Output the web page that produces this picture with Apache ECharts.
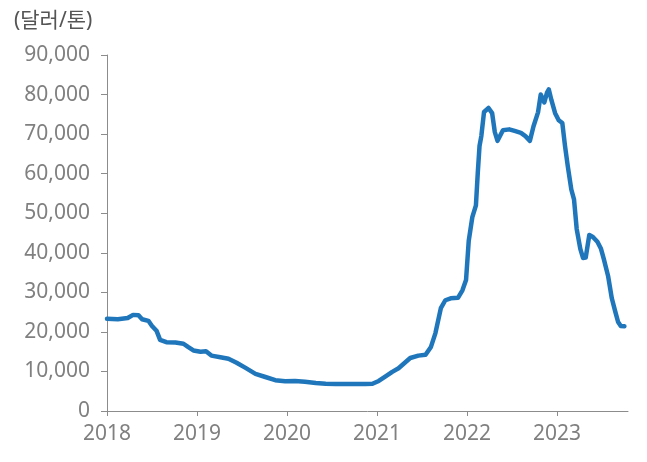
<!DOCTYPE html>
<html>
<head>
<meta charset="utf-8">
<script src="https://cdn.jsdelivr.net/npm/echarts@6/dist/echarts.min.js"></script>
<style>
html,body{margin:0;padding:0;background:#fff;}
#c{width:647px;height:462px;}
</style>
</head>
<body>
<div id="c"></div>
<script>
// decimal year
var dates = [2018.00,2018.12,2018.23,2018.29,2018.35,2018.39,2018.46,2018.50,2018.55,2018.59,2018.66,2018.76,2018.85,2018.90,2018.96,
2019.04,2019.10,2019.16,2019.26,2019.35,2019.44,2019.54,2019.65,2019.76,2019.87,2019.98,
2020.09,2020.20,2020.32,2020.43,2020.54,2020.71,2020.87,2020.95,
2021.02,2021.10,2021.17,2021.24,2021.30,2021.37,2021.46,2021.54,2021.60,2021.65,2021.71,2021.76,2021.82,2021.90,2021.95,2021.99,
2022.02,2022.06,2022.10,2022.12,2022.14,2022.16,2022.19,2022.24,2022.28,2022.31,2022.34,2022.40,2022.47,2022.53,2022.60,2022.65,2022.70,2022.74,2022.79,2022.82,2022.86,2022.89,2022.91,2022.94,2022.98,
2023.02,2023.06,2023.09,2023.12,2023.16,2023.19,2023.22,2023.26,2023.29,2023.32,2023.36,2023.40,2023.45,2023.49,2023.52,2023.57,2023.61,2023.65,2023.68,2023.71,2023.75];
// USD per ton
var prices = [23300,23200,23500,24300,24200,23200,22800,21500,20300,18000,17400,17300,17000,16200,15300,
15000,15100,14000,13600,13200,12200,10900,9400,8600,7800,7500,
7600,7400,7100,6900,6800,6800,6800,6900,
7600,8800,9900,10800,12000,13400,14000,14200,16200,19700,26000,28000,28500,28600,30500,33100,
43000,49000,52000,60000,67000,69500,75600,76600,75300,70500,68300,71000,71200,70800,70300,69500,68300,72000,75500,80000,78000,80500,81300,78500,75300,
73500,72800,67000,62000,56000,53500,46000,41000,38700,38800,44500,44000,42800,41000,38500,34000,28500,25000,22500,21500,21400];
var yearTicks = [2018,2019,2020,2021,2022,2023];
var unitLabel = '(달러/톤)';

var data = dates.map(function(d,i){return [d, prices[i]];});
var chart = echarts.init(document.getElementById('c'));
var fontFam = '"Noto Sans", "Noto Sans CJK KR", sans-serif';
chart.setOption({
  animation:false,
  title:{text:unitLabel,left:9,top:6,textStyle:{fontFamily:fontFam,fontSize:21,fontWeight:'normal',color:'#555'}},
  grid:{left:107,right:19,top:55,bottom:51,containLabel:false},
  xAxis:{type:'value',min:2018,max:2023.79,interval:1,
    axisLine:{show:true,lineStyle:{color:'#8c8c8c',width:1}},
    axisTick:{show:true,length:5,lineStyle:{color:'#8c8c8c'},customValues:yearTicks},
    axisLabel:{color:'#808080',fontSize:21,fontFamily:fontFam,margin:13,customValues:yearTicks,formatter:function(v){return String(v);}},
    splitLine:{show:false}},
  yAxis:{type:'value',min:0,max:90000,interval:10000,
    axisLine:{show:true,lineStyle:{color:'#8c8c8c',width:1}},
    axisTick:{show:true,length:6,lineStyle:{color:'#8c8c8c'}},
    axisLabel:{color:'#808080',fontSize:21,fontFamily:fontFam,margin:17,formatter:function(v){return v.toLocaleString('en-US');}},
    splitLine:{show:false}},
  series:[{type:'line',data:data,showSymbol:false,symbol:'none',
    lineStyle:{color:'#1f76bb',width:4.5,join:'round',cap:'round'}}]
});
</script>
</body>
</html>
